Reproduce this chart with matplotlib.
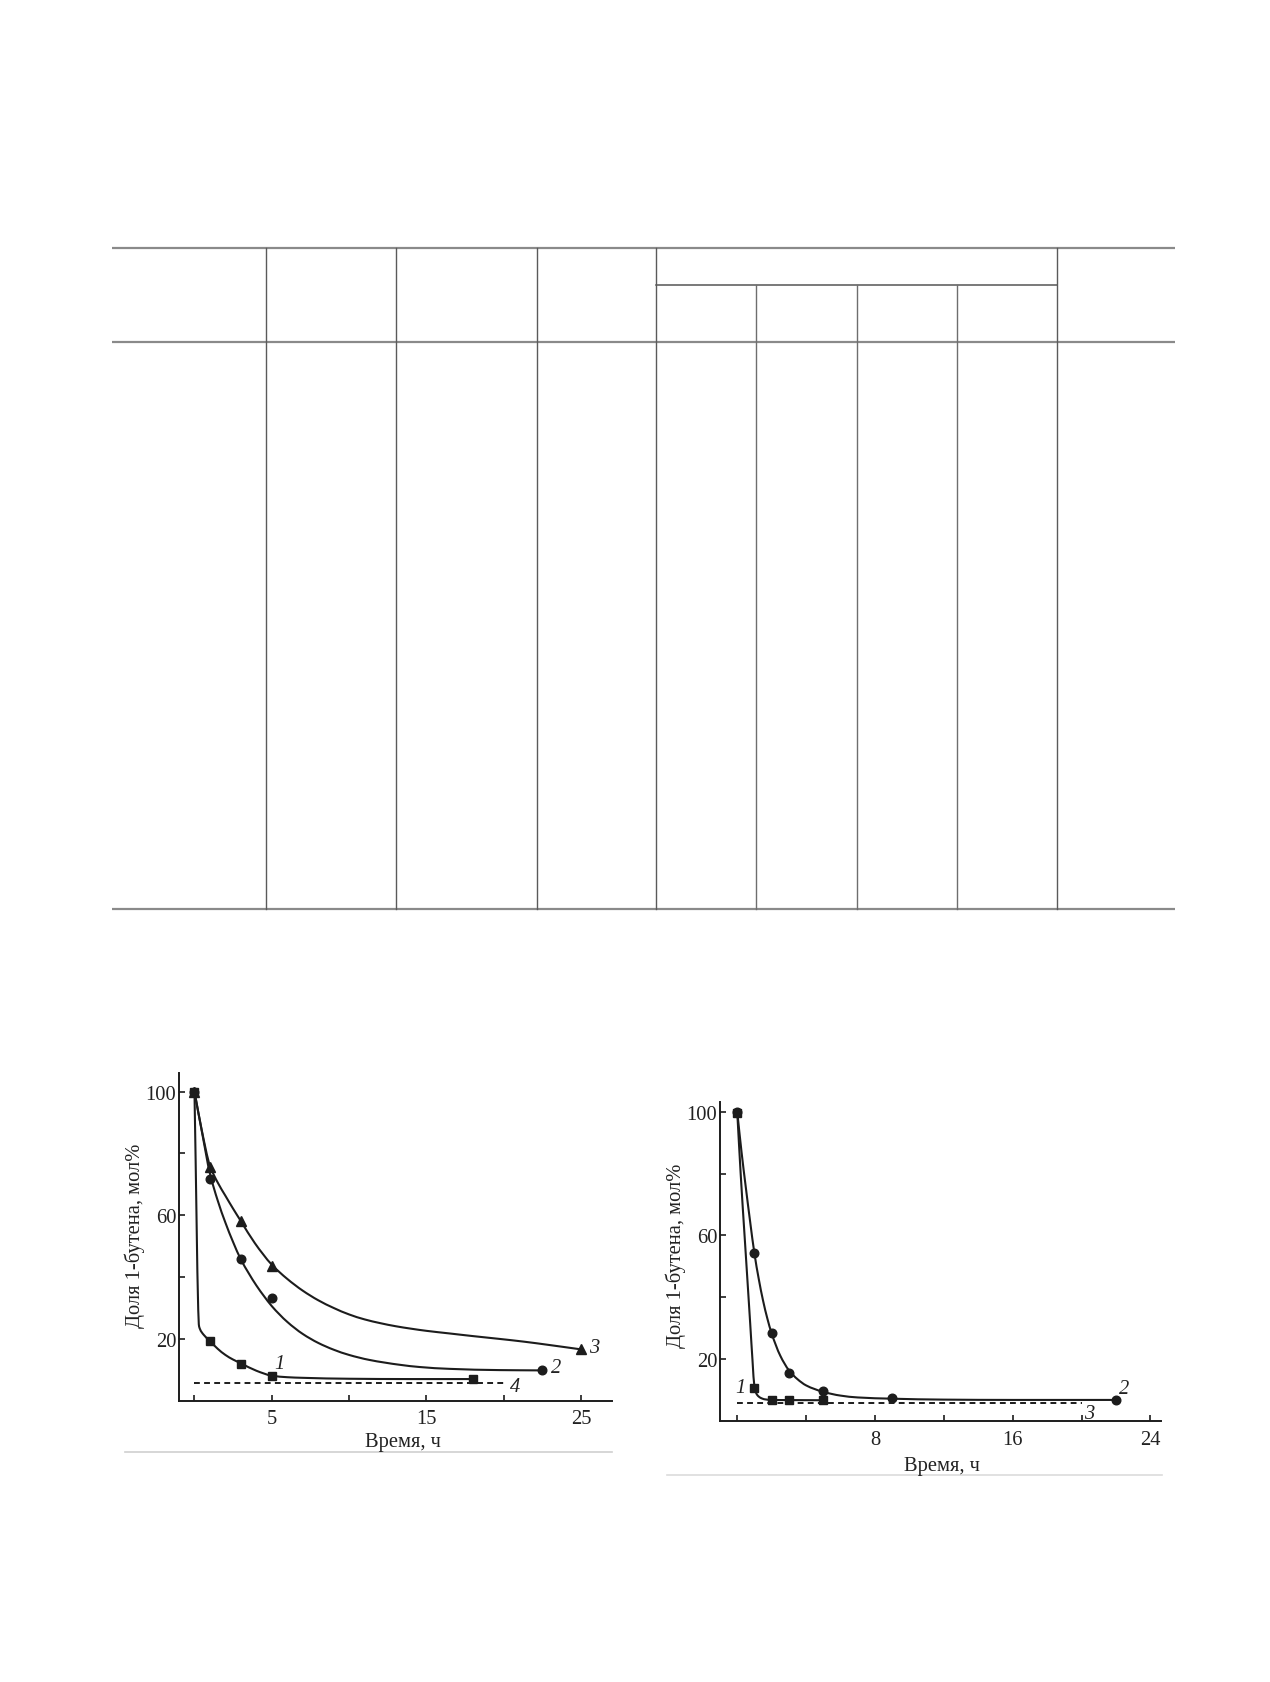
import matplotlib
matplotlib.use("Agg")
import matplotlib.pyplot as plt
from matplotlib.ticker import FixedLocator, FuncFormatter
from matplotlib.path import Path
from matplotlib.patches import PathPatch

plt.rcParams['font.family'] = ['Liberation Serif', 'DejaVu Serif']

# ---------------- data: left panel ----------------
left_sq_x = [0, 1, 3, 5, 18]
left_sq_y = [100, 19.3, 12.0, 7.9, 7.0]
left_ci_x = [0, 1, 3, 5, 22.5]
left_ci_y = [100, 71.8, 45.7, 33.3, 9.8]
left_tr_x = [0, 1, 3, 5, 25]
left_tr_y = [100, 75.7, 58.1, 43.7, 16.6]

# fitted curves (knots)
left_c1_x = [0, 0.3, 0.6, 1.0, 1.5, 2.0, 2.5, 3.0, 4.0, 5.0, 6.0, 7.0, 10.0, 14.0, 18.0]
left_c1_y = [100, 24.0, 21.3, 19.3, 16.8, 14.8, 13.3, 12.1, 9.7, 8.1, 7.6, 7.4, 7.1, 7.0, 7.0]
left_c2_x = [0, 0.5, 1.0, 1.5, 2.0, 2.5, 3.0, 3.5, 4.0, 4.5, 5.0, 6.0, 7.0, 8.0, 9.0, 10.0,
             11.3, 13.3, 14.55, 16.5, 19.7, 22.5]
left_c2_y = [100, 86.5, 73.5, 64.8, 57.6, 51.3, 45.7, 41.3, 37.3, 33.8, 30.6, 25.5, 21.6, 18.7,
             16.5, 14.8, 13.2, 11.6, 10.9, 10.3, 9.9, 9.8]
left_c3_x = [0, 0.46, 1.0, 1.5, 2.0, 2.5, 3.0, 3.9, 5.0, 6.0, 7.0, 8.0, 9.0, 10.0, 11.0, 12.0,
             13.0, 14.0, 15.0, 16.5, 18.0, 19.7, 21.3, 22.9, 25.0]
left_c3_y = [100, 87.8, 76.0, 70.6, 66.3, 62.1, 58.1, 51.0, 44.0, 39.4, 35.6, 32.5, 30.0, 27.9,
             26.3, 25.1, 24.1, 23.3, 22.6, 21.75, 20.9, 20.0, 19.1, 18.05, 16.6]
left_dash_x = [0, 20]
left_dash_y = [5.8, 5.8]

# ---------------- data: right panel ----------------
right_sq_x = [0, 1, 2, 3, 5]
right_sq_y = [99.5, 10.6, 6.9, 6.9, 6.8]
right_ci_x = [0, 1, 2, 3, 5, 9, 22]
right_ci_y = [100, 54.2, 28.4, 15.7, 9.7, 7.4, 6.9]

right_c1_x = [0, 0.2, 0.45, 0.6, 0.755, 0.89, 1.0, 1.15, 1.35, 1.6, 2.0, 3.0, 5.0]
right_c1_y = [100, 80, 58, 45, 31.5, 19.5, 11.2, 8.6, 7.6, 7.1, 6.9, 6.85, 6.8]
right_c2_x = [0, 0.25, 0.5, 0.75, 1.0, 1.25, 1.5, 1.75, 2.0, 2.5, 3.0, 3.5, 4.0, 5.0, 6.0, 7.0,
              9.0, 12.0, 16.0, 22.0]
right_c2_y = [100, 87, 75.5, 64.5, 54.2, 46.0, 39.0, 33.2, 28.4, 21.2, 16.5, 13.6, 11.6, 9.5,
              8.3, 7.7, 7.3, 7.0, 6.9, 6.9]
right_dash_x = [0, 20]
right_dash_y = [5.8, 5.8]

left_xticks = [0, 5, 10, 15, 20, 25]
left_xlabels = {5: "5", 15: "15", 25: "25"}
right_xticks = [0, 4, 8, 12, 16, 20, 24]
right_xlabels = {8: "8", 16: "16", 24: "24"}
yticks = [20, 40, 60, 80, 100]
ylabels = {20: "20", 60: "60", 100: "100"}

ylabel_text = "Доля 1-бутена, мол%"
xlabel_text = "Время, ч"

W, H = 1270, 1683
fig = plt.figure(figsize=(W / 100, H / 100), dpi=100)

# ---------------- page background: table rules ----------------
bg = fig.add_axes([0, 0, 1, 1], zorder=0)
bg.set_xlim(0, W)
bg.set_ylim(H, 0)
bg.axis('off')
rule_c = '#8a8a8a'
for yy in (249, 343, 910):
    bg.plot([112, 1175], [yy, yy], color=rule_c, lw=1.6, solid_capstyle='butt')
bg.plot([656, 1057], [286, 286], color='#555555', lw=1.1)
for xx in (266, 396, 537, 656, 1057):
    bg.plot([xx, xx], [249, 910], color='#5a5a5a', lw=1.0)
for xx in (756, 857, 957):
    bg.plot([xx, xx], [286, 910], color='#6e6e6e', lw=1.0)
# caption separator lines
bg.plot([125, 612], [1453, 1453], color='#cfcfcf', lw=1.2)
bg.plot([667, 1162], [1476, 1476], color='#dcdcdc', lw=1.2)

LC = '#1c1c1c'
FS = 14.8


def smooth_curve(ax, xs, ys, **kw):
    """Draw a smooth (monotone cubic Bezier) line through the knots."""
    n = len(xs)
    h = [xs[i + 1] - xs[i] for i in range(n - 1)]
    d = [(ys[i + 1] - ys[i]) / h[i] for i in range(n - 1)]
    m = [0.0] * n
    m[0], m[-1] = d[0], d[-1]
    for i in range(1, n - 1):
        if d[i - 1] * d[i] <= 0:
            m[i] = 0.0
        else:
            w1 = 2 * h[i] + h[i - 1]
            w2 = h[i] + 2 * h[i - 1]
            m[i] = (w1 + w2) / (w1 / d[i - 1] + w2 / d[i])
    verts = [(xs[0], ys[0])]
    codes = [Path.MOVETO]
    for i in range(n - 1):
        verts += [(xs[i] + h[i] / 3, ys[i] + m[i] * h[i] / 3),
                  (xs[i + 1] - h[i] / 3, ys[i + 1] - m[i + 1] * h[i] / 3),
                  (xs[i + 1], ys[i + 1])]
        codes += [Path.CURVE4] * 3
    ax.add_patch(PathPatch(Path(verts, codes), fill=False, capstyle='round',
                           joinstyle='round', **kw))


def style_axes(ax, xticks, xlabels, xlim, ylim):
    ax.set_xlim(*xlim)
    ax.set_ylim(*ylim)
    for s in ('top', 'right'):
        ax.spines[s].set_visible(False)
    for s in ('left', 'bottom'):
        ax.spines[s].set_color(LC)
        ax.spines[s].set_linewidth(1.4)
    ax.xaxis.set_major_locator(FixedLocator(xticks))
    ax.xaxis.set_major_formatter(FuncFormatter(lambda v, p: xlabels.get(int(round(v)), "")))
    ax.yaxis.set_major_locator(FixedLocator(yticks))
    ax.yaxis.set_major_formatter(FuncFormatter(lambda v, p: ylabels.get(int(round(v)), "")))
    ax.tick_params(axis='both', direction='in', length=4, width=1.2, color=LC,
                   labelsize=FS, labelcolor='#222222')
    ax.tick_params(axis='x', pad=6)
    ax.tick_params(axis='y', pad=2)
    ax.patch.set_alpha(0)


# ---------------- left panel ----------------
axL = fig.add_axes([179 / W, 1 - 1401.7 / H, 433 / W, 327.7 / H], zorder=2)
style_axes(axL, left_xticks, left_xlabels, (-1, 27), (0, 106))
smooth_curve(axL, left_c1_x, left_c1_y, edgecolor=LC, lw=1.5)
smooth_curve(axL, left_c2_x, left_c2_y, edgecolor=LC, lw=1.5)
smooth_curve(axL, left_c3_x, left_c3_y, edgecolor=LC, lw=1.5)
axL.plot(left_dash_x, left_dash_y, color=LC, lw=1.4, ls=(0, (3, 2.2)))
axL.plot(left_sq_x, left_sq_y, 's', color=LC, ms=5.3, ls='none')
axL.plot(left_ci_x, left_ci_y, 'o', color=LC, ms=6.2, ls='none')
axL.plot(left_tr_x, left_tr_y, '^', color=LC, ms=6.8, ls='none')
it = dict(fontsize=FS, style='italic', color='#222222', ha='center', va='center')
axL.text(5.5, 11.9, "1", **it)
axL.text(23.4, 10.6, "2", **it)
axL.text(25.85, 17.2, "3", **it)
axL.text(20.75, 4.6, "4", **it)
axL.text((403 - 179) / 433, (1401.7 - 1443) / 327.7, xlabel_text, transform=axL.transAxes,
         fontsize=FS, ha='center', va='center', color='#222222')
axL.text((135 - 179) / 433, 0.507, ylabel_text, transform=axL.transAxes, rotation=90,
         fontsize=FS, ha='center', va='center', color='#222222')

# ---------------- right panel ----------------
axR = fig.add_axes([720 / W, 1 - 1422.3 / H, 440.7 / W, 319.6 / H], zorder=2)
style_axes(axR, right_xticks, right_xlabels, (-1, 24.6), (0, 103.2))
smooth_curve(axR, right_c1_x, right_c1_y, edgecolor=LC, lw=1.5)
smooth_curve(axR, right_c2_x, right_c2_y, edgecolor=LC, lw=1.5)
axR.plot(right_dash_x, right_dash_y, color=LC, lw=1.4, ls=(0, (3, 2.2)))
axR.plot(right_sq_x, right_sq_y, 's', color=LC, ms=5.3, ls='none')
axR.plot(right_ci_x, right_ci_y, 'o', color=LC, ms=6.2, ls='none')
axR.text(0.17, 11.0, "1", **it)
axR.text(22.45, 10.5, "2", **it)
axR.text(20.47, 2.6, "3", **it)
axR.text((941.7 - 720) / 440.7, (1422.3 - 1466.7) / 319.6, xlabel_text, transform=axR.transAxes,
         fontsize=FS, ha='center', va='center', color='#222222')
axR.text((676 - 720) / 440.7, 0.521, ylabel_text, transform=axR.transAxes, rotation=90,
         fontsize=FS, ha='center', va='center', color='#222222')

fig.savefig("out.png", dpi=100, facecolor='white')
